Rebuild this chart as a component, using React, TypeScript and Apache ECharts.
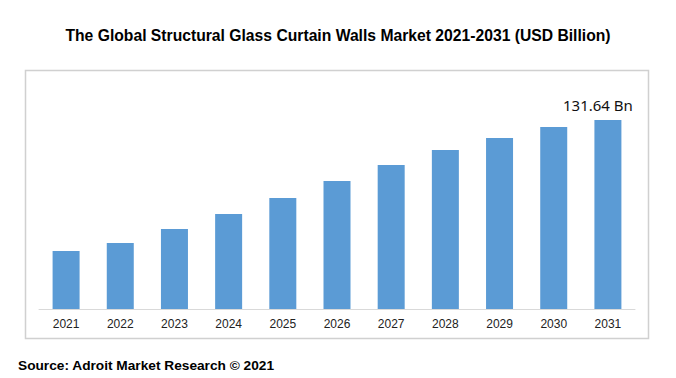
import React, { useEffect, useRef } from "react";
import * as echarts from "echarts";

const categories = ["2021", "2022", "2023", "2024", "2025", "2026", "2027", "2028", "2029", "2030", "2031"];
const values = [40.4, 46.0, 55.7, 66.2, 77.3, 89.2, 100.3, 110.7, 119.1, 126.8, 131.64];
const titleText = "The Global Structural Glass Curtain Walls Market 2021-2031 (USD Billion)";
const sourceText = "Source: Adroit Market Research © 2021";

export default function App() {
  const ref = useRef<HTMLDivElement>(null);
  useEffect(() => {
    document.body.style.margin = "0";
    const chart = echarts.init(ref.current!, null, { renderer: "svg" });
    const last = values.length - 1;
    chart.setOption({
      animation: false,
      title: {
        text: titleText,
        left: "center",
        top: 22,
        textStyle: { fontFamily: "Liberation Sans, Arial", fontWeight: "bold", fontSize: 15.7, color: "#000" },
      },
      graphic: [
        {
          type: "rect",
          shape: { x: 25.5, y: 70.5, width: 623, height: 268 },
          style: { fill: "none", stroke: "#d0d0d0", lineWidth: 1.5 },
          silent: true,
        },
        {
          type: "text",
          left: 18,
          top: 358,
          style: { text: sourceText, font: "bold 13.7px 'Liberation Sans', Arial", fill: "#000" },
        },
      ],
      grid: { left: 39, right: 41, top: 309 - 150 * 1.4357, bottom: 378 - 309 },
      xAxis: {
        type: "category",
        data: categories,
        axisLine: { lineStyle: { color: "#d9d9d9", width: 1 } },
        axisTick: { show: false },
        axisLabel: { fontFamily: "Liberation Sans, Arial", fontSize: 12, color: "#222", margin: 9 },
      },
      yAxis: {
        type: "value",
        min: 0,
        max: 150,
        show: false,
        splitLine: { show: false },
      },
      series: [
        {
          type: "bar",
          data: values.map((v, i) =>
            i === last
              ? {
                  value: v,
                  label: {
                    show: true,
                    position: "top",
                    offset: [-10, -3],
                    formatter: (p: any) => p.value + " Bn",
                    fontFamily: "Noto Sans, Open Sans",
                    fontSize: 15,
                    color: "#111",
                  },
                }
              : v
          ),
          barWidth: 27,
          itemStyle: { color: "#5B9BD5" },
        },
      ],
    });
    return () => chart.dispose();
  }, []);
  return <div ref={ref} style={{ width: 676, height: 378, position: "absolute", left: 0, top: 0 }} />;
}
